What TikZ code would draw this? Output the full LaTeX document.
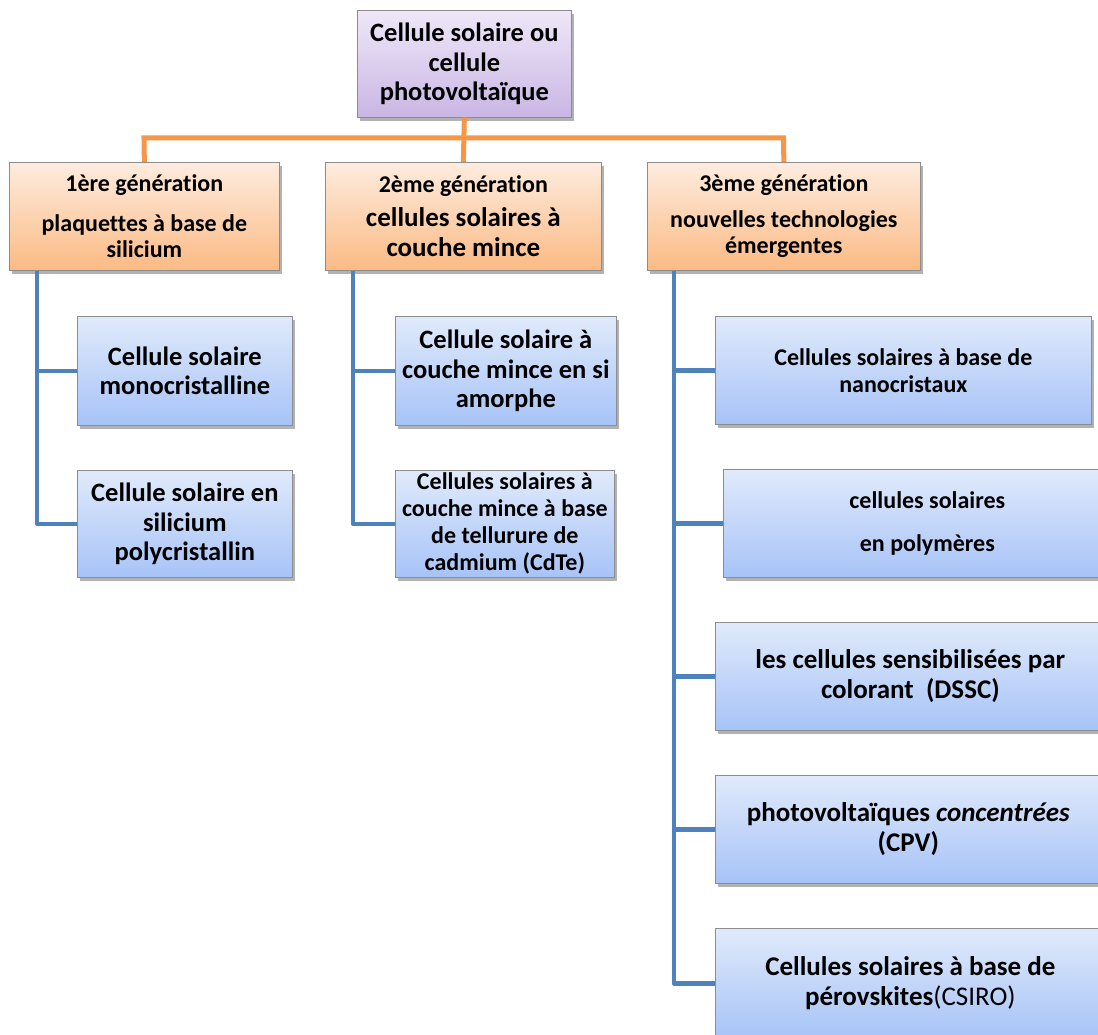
\documentclass[tikz,border=0pt]{standalone}
\usepackage{fontspec}
\setmainfont{Carlito}[Ligatures=NoCommon]
\usetikzlibrary{shadows}
\definecolor{orangeline}{HTML}{F79646}
\definecolor{blueline}{HTML}{4F81BD}
\definecolor{rootTop}{HTML}{EFE7F8}
\definecolor{rootBot}{HTML}{C9B6E4}
\definecolor{genTop}{HTML}{FEECDF}
\definecolor{genBot}{HTML}{FBBA84}
\definecolor{chTop}{HTML}{E0EAFB}
\definecolor{chBot}{HTML}{A7C3F7}
\newcommand{\fsA}{\fontsize{26.5}{29.5}\selectfont}
\newcommand{\fsB}{\fontsize{24}{26}\selectfont}
\newcommand{\fsC}{\fontsize{27}{30}\selectfont}
\newcommand{\fsD}{\fontsize{24}{27}\selectfont}
\tikzset{
  basebox/.style={draw=black!45, line width=0.7pt, align=center, inner sep=2pt,
    anchor=north west,
    drop shadow={shadow xshift=2.5pt, shadow yshift=-3.5pt, opacity=0.3, fill=black}},
  rootbox/.style={basebox, top color=rootTop, bottom color=rootBot},
  genbox/.style={basebox, top color=genTop, bottom color=genBot},
  childbox/.style={basebox, top color=chTop, bottom color=chBot},
  oline/.style={draw=orangeline, line width=5pt},
  bline/.style={draw=blueline, line width=4.5pt, line join=round},
  fA/.style={font=\bfseries\fsA},
  fB/.style={font=\bfseries\fsB},
  fC/.style={font=\bfseries\fsC},
  fD/.style={font=\bfseries\fsD},
}
\begin{document}
\begin{tikzpicture}[x=1pt,y=-1pt]
\clip (0,0) rectangle (1098,1035);
\fill[white] (0,0) rectangle (1098,1035);
\coordinate (hubL) at (144,138);
\coordinate (hubR) at (783.5,138);
% boxes
\node[rootbox, fA, minimum width=214pt, minimum height=107pt] (root) at (357,10)
  {Cellule solaire ou\\ cellule\\ photovoltaïque};
\node[genbox, fB, minimum width=270pt, minimum height=108pt] (g1) at (9,162)
  {1ère génération\\[14pt] plaquettes à base de\\ silicium};
\node[genbox, fC, minimum width=276pt, minimum height=108pt] (g2) at (325,162)
  {\fsB 2ème génération\\[4pt] cellules solaires à\\ couche mince};
\node[genbox, fB, minimum width=273pt, minimum height=108pt] (g3) at (647,162)
  {3ème génération\\[10pt] nouvelles technologies\\ émergentes};
\node[childbox, fA, minimum width=215pt, minimum height=109pt] (c11) at (77,316)
  {Cellule solaire\\ monocristalline};
\node[childbox, fA, minimum width=215pt, minimum height=107pt] (c12) at (77,470)
  {Cellule solaire en\\ silicium\\ polycristallin};
\node[childbox, fA, minimum width=221pt, minimum height=109pt] (c21) at (395,316)
  {Cellule solaire à\\ couche mince en si\\ amorphe};
\node[childbox, fD, minimum width=219pt, minimum height=107pt] (c22) at (395,470)
  {Cellules solaires à\\ couche mince à base\\ de tellurure de\\ cadmium (CdTe)};
\node[childbox, fD, minimum width=376pt, minimum height=108pt] (c31) at (715,316)
  {Cellules solaires à base de\\ nanocristaux};
\node[childbox, fD, minimum width=408pt, minimum height=108pt] (c32) at (723,469)
  {cellules solaires\\[16pt] en polymères};
\node[childbox, fC, minimum width=390pt, minimum height=108pt] (c33) at (715,622)
  {les cellules sensibilisées par\\ colorant\ \ (DSSC)};
\node[childbox, fC, minimum width=386pt, minimum height=108pt] (c34) at (715,775)
  {photovoltaïques \textit{concentrées}\\ (CPV)};
\node[childbox, fC, minimum width=390pt, minimum height=110pt] (c35) at (715,928)
  {Cellules solaires à base de\\ pérovskites\mdseries(CSIRO)};
% orange connectors
\draw[oline] (root.south) -- (g2.north);
\draw[oline] (g1.north) -- (hubL) -- (hubR) -- (g3.north);
% blue connectors
\draw[bline] ([xshift=28pt]g1.south west) |- (c11.west);
\draw[bline] ([xshift=28pt]g1.south west) |- (c12.west);
\draw[bline] ([xshift=28pt]g2.south west) |- (c21.west);
\draw[bline] ([xshift=28pt]g2.south west) |- (c22.west);
\draw[bline] ([xshift=27pt]g3.south west) |- (c31.west);
\draw[bline] ([xshift=27pt]g3.south west) |- (c32.west);
\draw[bline] ([xshift=27pt]g3.south west) |- (c33.west);
\draw[bline] ([xshift=27pt]g3.south west) |- (c34.west);
\draw[bline] ([xshift=27pt]g3.south west) |- (c35.west);
\end{tikzpicture}
\end{document}
